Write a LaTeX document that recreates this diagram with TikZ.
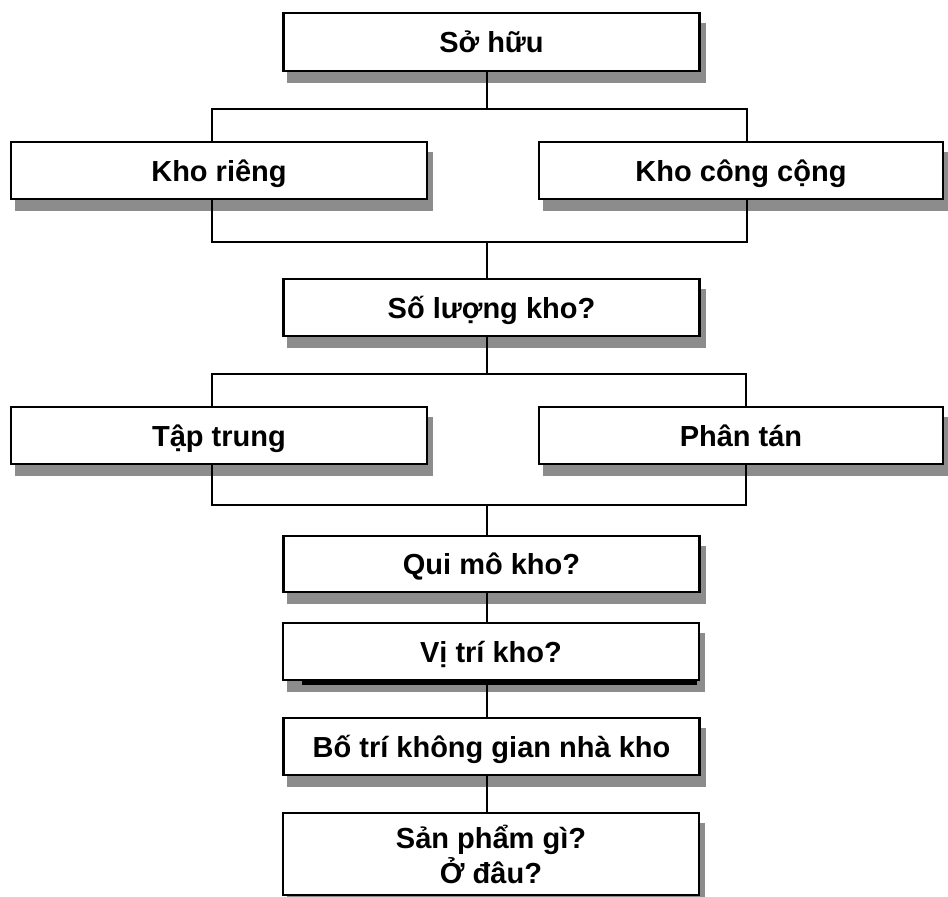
\documentclass[tikz,border=0pt]{standalone}
\usepackage{fontspec}
\setmainfont{Liberation Sans}
\pgfdeclarelayer{shadowlayer}
\pgfdeclarelayer{background}
\pgfsetlayers{shadowlayer,background,main}
\definecolor{shadowgray}{RGB}{140,140,140}
\tikzset{
  box/.style={draw=black, line width=2.4pt, fill=white, inner sep=0pt,
    minimum height=57pt,
    font=\bfseries\fontsize{29}{35}\selectfont,
    text height=24pt, text depth=3pt},
  wide/.style={minimum width=416pt},
  side/.style={minimum width=404pt},
  link/.style={draw=black, line width=1.6pt},
}
\newcommand{\boxshadow}[1]{%
  \fill[shadowgray] ([shift={(5,11)}]#1.south west) rectangle ([shift={(5,11)}]#1.north east);}
\begin{document}
\begin{tikzpicture}[x=1pt, y=-1pt]
\useasboundingbox (0,0) rectangle (948,897);

% boxes
\node[box, wide, minimum height=58pt] (so)      at (491.5, 42)    {Sở hữu};
\node[box, wide]                      (rieng)   at (219, 170.5)   {Kho riêng};
\node[box, side]                      (cong)    at (741, 170.5)   {Kho công cộng};
\node[box, wide]                      (soluong) at (491.5, 307.5) {Số lượng kho?};
\node[box, wide]                      (taptrung)at (219, 435.5)   {Tập trung};
\node[box, side]                      (phantan) at (741, 435.5)   {Phân tán};
\node[box, wide, minimum height=56pt] (quimo)   at (491.5, 564)   {Qui mô kho?};
\node[box, wide]                      (vitri)   at (491, 651.5)   {Vị trí kho?};
\node[box, wide]                      (botri)   at (491.5, 746.5) {Bố trí không gian nhà kho};
\node[box, wide, minimum height=82pt, align=center, text height=, text depth=]
                                      (sanpham) at (491, 854)     {Sản phẩm gì?\\Ở đâu?};

% bracket corners and the main spine
\coordinate (spine) at (487,0);
\coordinate (b1tl) at (212,109);
\coordinate (b1br) at (747,242);
\coordinate (b2tl) at (212,374);
\coordinate (b2br) at (746,505);

\begin{pgfonlayer}{shadowlayer}
  \foreach \n in {so,rieng,cong,soluong,taptrung,phantan,quimo,vitri,botri,sanpham}
    {\boxshadow{\n}}
  \fill[black] ([shift={(20,0)}]vitri.south west) rectangle ([shift={(-3,4)}]vitri.south east);
\end{pgfonlayer}

\begin{pgfonlayer}{background}
  \draw[link] (b1tl) rectangle (b1br);
  \draw[link] (b2tl) rectangle (b2br);
  \draw[link] (so.south -| spine) -- (spine |- b1tl);
  \draw[link] (spine |- b1br) -- (soluong.north -| spine);
  \draw[link] (soluong.south -| spine) -- (spine |- b2tl);
  \draw[link] (spine |- b2br) -- (quimo.north -| spine);
  \draw[link] (quimo.south -| spine) -- (vitri.north -| spine);
  \draw[link] (vitri.south -| spine) -- (botri.north -| spine);
  \draw[link] (botri.south -| spine) -- (sanpham.north -| spine);
\end{pgfonlayer}
\end{tikzpicture}
\end{document}
